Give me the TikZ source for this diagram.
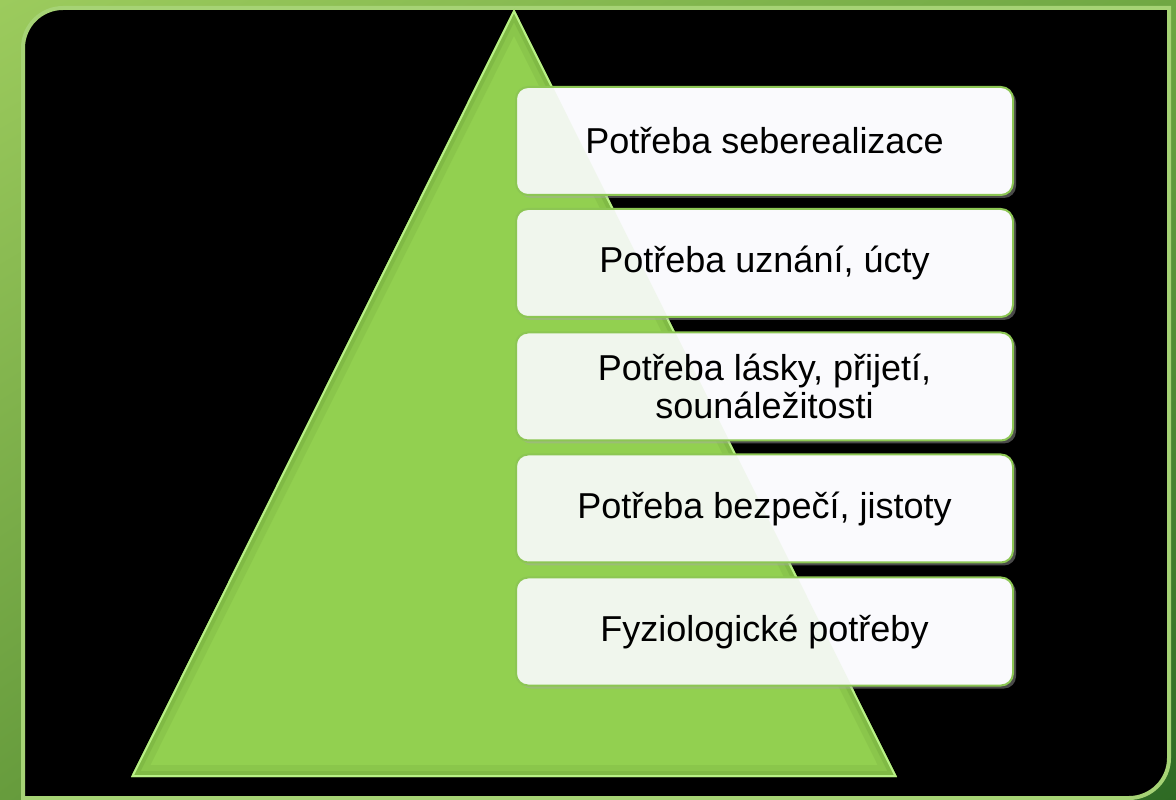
\documentclass[tikz,border=0pt]{standalone}
\usepackage{fontspec}
\setmainfont{Liberation Sans}
\usetikzlibrary{calc,shadings}
\definecolor{tri}{HTML}{92D050}
\definecolor{trid}{HTML}{6FA63A}
\definecolor{tril}{HTML}{B8F086}
\definecolor{frameline}{HTML}{A6D375}
\definecolor{boxline}{HTML}{8CC653}
\definecolor{boxfill}{HTML}{FAFAFD}
\definecolor{bgul}{HTML}{9CCB5D}
\definecolor{bgur}{HTML}{6FA743}
\definecolor{bgll}{HTML}{679C3D}
\definecolor{bglr}{HTML}{2E6A24}
\begin{document}
\begin{tikzpicture}[x=0.75pt,y=0.75pt,
  pbox/.style={draw=boxline, line width=1.5pt, rounded corners=9pt, fill=boxfill,
    minimum width=372.75pt, minimum height=81pt, inner sep=0pt,
    font=\fontsize{27}{28.5}\selectfont, align=center, text=black,
    path picture={\fill[tri, opacity=0.09] (T1)--(T2)--(T3)--cycle;}},
  pshadow/.style={fill=gray!70, opacity=0.45, rounded corners=9pt}]
\useasboundingbox (0,0) rectangle (1176,799);
% background frame
\shade[upper left=bgul, upper right=bgur, lower left=bgll, lower right=bglr] (0,0) rectangle (1176,799);
\filldraw[fill=black, draw=frameline, line width=3pt]
  (23,1) -- (23,751) arc[start angle=180, end angle=90, radius=30pt]
  -- (1169,791) -- (1169,41) arc[start angle=0, end angle=-90, radius=30pt] -- cycle;
% triangle
\coordinate (T1) at (514,790);
\coordinate (T2) at (131,22);
\coordinate (T3) at (897,22);
\fill[tri] (T1)--(T2)--(T3)--cycle;
\begin{scope}
  \clip (T1)--(T2)--(T3)--cycle;
  \draw[trid, line width=18pt, opacity=0.22, line join=round] (T1)--(T2)--(T3)--cycle;
  \draw[trid, line width=9pt, opacity=0.35, line join=round] (T1)--(T2)--(T3)--cycle;
  \draw[tril, line width=3pt] (T1)--(T2)--(T3)--cycle;
\end{scope}
% boxes
\foreach \cy in {658,536,412.5,290.5,167.5}
  \fill[pshadow] (516+3,\cy-54-3) rectangle (1013+3,\cy+54-3);
\node[pbox] (b1) at (764.5,658) {Potřeba seberealizace};
\node[pbox] (b2) at (764.5,536) {Potřeba uznání, úcty};
\node[pbox] (b3) at (764.5,412.5) {Potřeba lásky, přijetí,\\sounáležitosti};
\node[pbox] (b4) at (764.5,290.5) {Potřeba bezpečí, jistoty};
\node[pbox] (b5) at (764.5,167.5) {Fyziologické potřeby};
\end{tikzpicture}
\end{document}
